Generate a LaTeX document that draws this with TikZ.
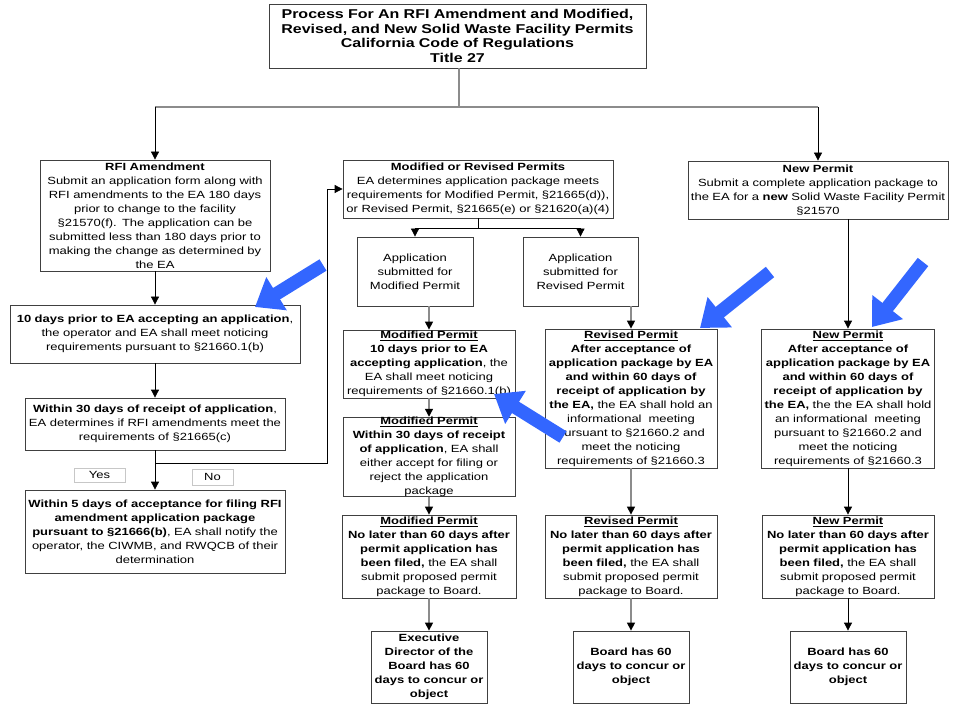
\documentclass[tikz,border=0pt]{standalone}
\usepackage{fontspec}
\setmainfont{Liberation Sans}[FakeStretch=1.25]
\usetikzlibrary{arrows.meta}

\newcommand{\boxfont}{\fontsize{7.8}{10.5}\selectfont}
\newcommand{\headfont}{\fontsize{9.6}{10.8}\selectfont\bfseries}
\definecolor{ptrblue}{RGB}{51,102,255}

\begin{document}
\begin{tikzpicture}[
        x=0.75pt, y=-0.75pt,
        box/.style={rectangle, draw=black!75, line width=0.6pt, fill=white, align=center, inner xsep=2pt, inner ysep=0pt, font=\boxfont},
        tag/.style={rectangle, draw=black!22, line width=0.5pt, inner sep=0pt, font=\boxfont},
        plain/.style={draw=black, line width=0.6pt},
        link/.style={-{Triangle[length=6pt,width=6pt]}, draw=black, line width=0.6pt},
        glink/.style={-{Triangle[length=6pt,width=6pt,black]}, draw=black!45, line width=1pt},
        pointer/.style={-{Triangle[length=19pt,width=28pt]}, draw=ptrblue, line width=10pt}
    ]
        \useasboundingbox[fill=white] (0,0) rectangle (960,720);

        % Title
        \node[box, font=\headfont, text width=278.75pt, minimum height=48pt] (title) at (457.5,36) {Process For An RFI Amendment and Modified,\\Revised, and New Solid Waste Facility Permits\\California Code of Regulations\\Title 27};

        % RFI Amendment column
        \node[box, text width=168.5pt, minimum height=83.25pt] (rfi) at (155,215.5) {\textbf{RFI Amendment}\\Submit an application form along with\\RFI amendments to the EA 180 days\\prior to change to the facility\\§21570(f). The application can be\\submitted less than 180 days prior to\\making the change as determined by\\the EA};
        \node[box, text width=213.5pt, minimum height=43.5pt] (notice) at (155,334) {\textbf{10 days prior to EA accepting an application},\\the operator and EA shall meet noticing\\requirements pursuant to §21660.1(b)};
        \node[box, text width=191pt, minimum height=39pt] (review) at (155,424) {\textbf{Within 30 days of receipt of application},\\EA determines if RFI amendments meet the\\requirements of §21665(c)};
        \node[box, text width=191pt, minimum height=62.25pt] (notify) at (155,531.5) {\textbf{Within 5 days of acceptance for filing RFI}\\\textbf{amendment application package}\\\textbf{pursuant to §21666(b)}, EA shall notify the\\operator, the CIWMB, and RWQCB of their\\determination};
        \node[tag, minimum width=38pt, minimum height=10.5pt] (yes) at (99.5,475) {Yes};
        \node[tag, minimum width=31pt, minimum height=12pt] (no) at (212.5,477) {No};

        % Modified / Revised column
        \node[box, text width=198.5pt, minimum height=43.5pt] (modrev) at (478,189) {\textbf{Modified or Revised Permits}\\EA determines application package meets\\requirements for Modified Permit, §21665(d)),\\or Revised Permit, §21665(e) or §21620(a)(4)};
        \node[box, text width=83pt, minimum height=51.75pt] (appmod) at (415,271.5) {Application\\submitted for\\Modified Permit};
        \node[box, text width=82.25pt, minimum height=51.75pt] (apprev) at (580.5,271.5) {Application\\submitted for\\Revised Permit};
        \node[box, text width=125pt, minimum height=51pt] (modten) at (429,364) {\textbf{\underline{Modified Permit}}\\\textbf{10 days prior to EA}\\\textbf{accepting application}, the\\EA shall meet noticing\\requirements of §21660.1(b)};
        \node[box, text width=125pt, minimum height=52.5pt] (modthirty) at (429,457) {\textbf{\underline{Modified Permit}}\\\textbf{Within 30 days of receipt}\\\textbf{of application}, EA shall\\either accept for filing or\\reject the application\\package};
        \node[box, text width=125pt, minimum height=104.25pt] (revmeet) at (631,398.5) {\textbf{\underline{Revised Permit}}\\\textbf{After acceptance of}\\\textbf{application package by EA}\\\textbf{and within 60 days of}\\\textbf{receipt of application by}\\\textbf{the EA,} the EA shall hold an\\informational\ \ meeting\\pursuant to §21660.2 and\\meet the noticing\\requirements of §21660.3};
        \node[box, text width=126.5pt, minimum height=62.25pt] (modsixty) at (429,556.5) {\textbf{\underline{Modified Permit}}\\\textbf{No later than 60 days after}\\\textbf{permit application has}\\\textbf{been filed,} the EA shall\\submit proposed permit\\package to Board.};
        \node[box, text width=125pt, minimum height=62.25pt] (revsixty) at (631,556.5) {\textbf{\underline{Revised Permit}}\\\textbf{No later than 60 days after}\\\textbf{permit application has}\\\textbf{been filed,} the EA shall\\submit proposed permit\\package to Board.};
        \node[box, text width=83pt, minimum height=54pt] (modboard) at (429,667) {\textbf{Executive}\\\textbf{Director of the}\\\textbf{Board has 60}\\\textbf{days to concur or}\\\textbf{object}};
        \node[box, text width=83pt, minimum height=54pt] (revboard) at (631,667) {\textbf{Board has 60}\\\textbf{days to concur or}\\\textbf{object}};

        % New Permit column
        \node[box, text width=191pt, minimum height=43.5pt] (newp) at (818,190) {\textbf{New Permit}\\Submit a complete application package to\\the EA for a \textbf{new} Solid Waste Facility Permit\\§21570};
        \node[box, text width=125.75pt, minimum height=104.25pt] (newmeet) at (848,398.5) {\textbf{\underline{New Permit}}\\\textbf{After acceptance of}\\\textbf{application package by EA}\\\textbf{and within 60 days of}\\\textbf{receipt of application by}\\\textbf{the EA,} the the EA shall hold\\an informational\ \ meeting\\pursuant to §21660.2 and\\meet the noticing\\requirements of §21660.3};
        \node[box, text width=125pt, minimum height=62.25pt] (newsixty) at (848,556.5) {\textbf{\underline{New Permit}}\\\textbf{No later than 60 days after}\\\textbf{permit application has}\\\textbf{been filed,} the EA shall\\submit proposed permit\\package to Board.};
        \node[box, text width=83pt, minimum height=54pt] (newboard) at (848,667) {\textbf{Board has 60}\\\textbf{days to concur or}\\\textbf{object}};

        % Branch points
        \coordinate (hub) at (459,107);
        \coordinate (fork) at (478,228);
        \coordinate (nojoin) at (155,463);
        \coordinate (noturn) at (327,189);

        % Connections
        \draw[glink, -] (title.south -| hub) -- (hub);
        \draw[plain, draw=black!45, line width=1.5pt] (rfi.north |- hub) -- (newp.north |- hub);
        \draw[link] (rfi.north |- hub) -- (rfi);
        \draw[link] (newp.north |- hub) -- (newp);
        \draw[link] (rfi) -- (notice);
        \draw[link] (notice) -- (review);
        \draw[link] (review) -- (notify);
        \draw[link] (nojoin) -| (noturn) -- (modrev);
        \draw[plain] (modrev) -- (fork);
        \draw[link] (fork) -| (appmod);
        \draw[link] (fork) -| (apprev);
        \draw[glink] (appmod.south -| modten) -- (modten);
        \draw[glink] (modten) -- (modthirty);
        \draw[glink] (modthirty) -- (modsixty);
        \draw[glink] (modsixty) -- (modboard);
        \draw[glink] (apprev.south -| revmeet) -- (revmeet);
        \draw[glink] (revmeet) -- (revsixty);
        \draw[glink] (revsixty) -- (revboard);
        \draw[link] (newp.south -| newmeet) -- (newmeet);
        \draw[link] (newmeet) -- (newsixty);
        \draw[link] (newsixty) -- (newboard);

        % Blue pointers
        \coordinate (tailA) at (323,265);  \coordinate (tipA) at (255,307);
        \coordinate (tailB) at (563,437);  \coordinate (tipB) at (494,394);
        \coordinate (tailC) at (770,272);  \coordinate (tipC) at (700,328);
        \coordinate (tailD) at (923,262);  \coordinate (tipD) at (872,327);
        \draw[pointer] (tailA) -- (tipA);
        \draw[pointer] (tailB) -- (tipB);
        \draw[pointer] (tailC) -- (tipC);
        \draw[pointer] (tailD) -- (tipD);
    \end{tikzpicture}
\end{document}
